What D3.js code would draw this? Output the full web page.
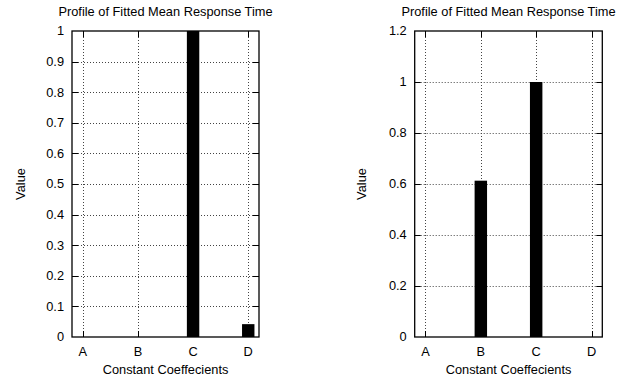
<!DOCTYPE html>
<html>
<head>
<meta charset="utf-8">
<script src="https://cdn.jsdelivr.net/npm/d3@7"></script>
<style>
  body { margin: 0; background: #fff; }
  svg { display: block; }
  text { font-family: "Liberation Sans", Arial, Helvetica, sans-serif; font-size: 12.8px; fill: #000; }
</style>
</head>
<body>
<svg id="chart" width="626" height="381"></svg>
<script>
const categories = ["A", "B", "C", "D"];
const leftValues = [0, 0, 1.0, 0.042];
const rightValues = [0, 0.613, 1.0, 0];
const leftTicks = [0, 0.1, 0.2, 0.3, 0.4, 0.5, 0.6, 0.7, 0.8, 0.9, 1];
const rightTicks = [0, 0.2, 0.4, 0.6, 0.8, 1, 1.2];
const titleText = "Profile of Fitted Mean Response Time";
const xLabelText = "Constant Coeffecients";
const yLabelText = "Value";

const svg = d3.select("#chart");

function panel(cfg) {
  const { left, right, top, bottom, values, ticks, yMax, yLabelX } = cfg;
  const g = svg.append("g");
  const x = d3.scaleLinear().domain([-0.195, 3.195]).range([left, right]);
  const y = d3.scaleLinear().domain([0, yMax]).range([bottom, top]);
  const idx = categories.map((c, i) => i);

  // grid
  g.selectAll(".hg").data(ticks.filter(t => t > 0 && t < yMax)).join("line")
    .attr("x1", left).attr("x2", right)
    .attr("y1", d => Math.round(y(d)) + 0.5).attr("y2", d => Math.round(y(d)) + 0.5)
    .attr("stroke", "#444").attr("stroke-width", 1).attr("stroke-dasharray", "1,2");
  g.selectAll(".vg").data(idx).join("line")
    .attr("x1", d => Math.round(x(d)) + 0.5).attr("x2", d => Math.round(x(d)) + 0.5)
    .attr("y1", top).attr("y2", bottom)
    .attr("stroke", "#444").attr("stroke-width", 1).attr("stroke-dasharray", "1,2");

  // bars
  const bw = 0.225;
  g.selectAll(".bar").data(values.map((v, i) => ({ v, i })).filter(d => d.v > 0)).join("rect")
    .attr("x", d => x(d.i - bw / 2)).attr("width", d => x(bw) - x(0))
    .attr("y", d => y(d.v)).attr("height", d => y(0) - y(d.v))
    .attr("fill", "#000");

  // ticks (inward, both sides)
  const tl = 6;
  const yt = ticks.filter(t => t > 0 && t < yMax);
  g.selectAll(".tkl").data(yt).join("line")
    .attr("x1", left).attr("x2", left + tl)
    .attr("y1", d => Math.round(y(d)) + 0.5).attr("y2", d => Math.round(y(d)) + 0.5)
    .attr("stroke", "#000");
  g.selectAll(".tkr").data(yt).join("line")
    .attr("x1", right - tl).attr("x2", right)
    .attr("y1", d => Math.round(y(d)) + 0.5).attr("y2", d => Math.round(y(d)) + 0.5)
    .attr("stroke", "#000");
  g.selectAll(".tkb").data(idx).join("line")
    .attr("x1", d => Math.round(x(d)) + 0.5).attr("x2", d => Math.round(x(d)) + 0.5)
    .attr("y1", bottom).attr("y2", bottom - tl).attr("stroke", "#000");
  g.selectAll(".tkt").data(idx).join("line")
    .attr("x1", d => Math.round(x(d)) + 0.5).attr("x2", d => Math.round(x(d)) + 0.5)
    .attr("y1", top).attr("y2", top + tl).attr("stroke", "#000");

  // frame
  g.append("rect").attr("x", left).attr("y", top)
    .attr("width", right - left).attr("height", bottom - top)
    .attr("fill", "none").attr("stroke", "#000").attr("stroke-width", 1.3);

  // y tick labels
  g.selectAll(".yl").data(ticks).join("text")
    .attr("x", left - 8).attr("y", d => y(d)).attr("dy", "0.35em")
    .attr("text-anchor", "end").text(d => d3.format("~g")(d));
  // x tick labels
  g.selectAll(".xl").data(idx).join("text")
    .attr("x", d => x(d)).attr("y", bottom + 15).attr("dy", "0.35em")
    .attr("text-anchor", "middle").text(d => categories[d]);

  // title & labels
  g.append("text").attr("x", (left + right) / 2).attr("y", 12).attr("dy", "0.35em")
    .attr("text-anchor", "middle").text(titleText);
  g.append("text").attr("x", (left + right) / 2).attr("y", 370).attr("dy", "0.35em")
    .attr("text-anchor", "middle").text(xLabelText);
  g.append("text").attr("transform", `translate(${yLabelX},${(top + bottom) / 2}) rotate(-90)`)
    .attr("dy", "0.35em").attr("text-anchor", "middle").text(yLabelText);
}

panel({ left: 72, right: 259, top: 31, bottom: 337, values: leftValues, ticks: leftTicks, yMax: 1, yLabelX: 20.5 });
panel({ left: 414.7, right: 602.3, top: 31, bottom: 337, values: rightValues, ticks: rightTicks, yMax: 1.2, yLabelX: 362 });
</script>
</body>
</html>
